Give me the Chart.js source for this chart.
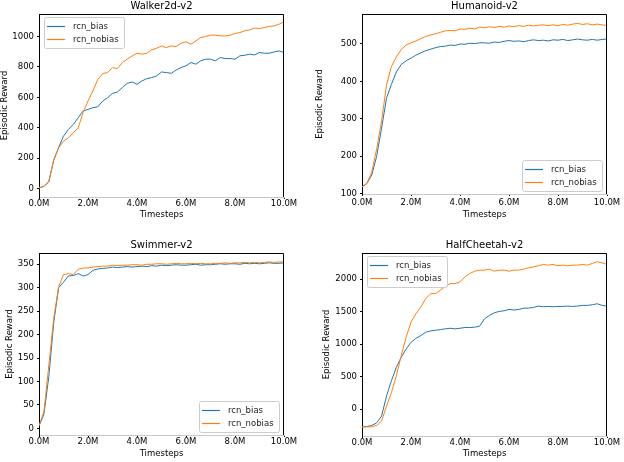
<!DOCTYPE html>
<html>
<head>
<meta charset="utf-8">
<script src="https://cdn.jsdelivr.net/npm/chart.js@4.4.0/dist/chart.umd.min.js"></script>
<style>
  body { margin: 0; background: #fff; }
  #wrap { position: relative; width: 624px; height: 462px; }
  canvas { position: absolute; }
</style>
</head>
<body>
<div id="wrap">
  <canvas id="walker" width="312" height="231" style="left:0;top:0"></canvas>
  <canvas id="humanoid" width="312" height="231" style="left:312px;top:0"></canvas>
  <canvas id="swimmer" width="312" height="231" style="left:0;top:231px"></canvas>
  <canvas id="cheetah" width="312" height="231" style="left:312px;top:231px"></canvas>
</div>
<script>
// timesteps in millions
const steps = [0, 0.2, 0.4, 0.6, 0.8, 1.0, 1.2, 1.4, 1.6, 1.8,
  2.0, 2.2, 2.4, 2.6, 2.8, 3.0, 3.2, 3.4, 3.6, 3.8,
  4.0, 4.2, 4.4, 4.6, 4.8, 5.0, 5.2, 5.4, 5.6, 5.8,
  6.0, 6.2, 6.4, 6.6, 6.8, 7.0, 7.2, 7.4, 7.6, 7.8,
  8.0, 8.2, 8.4, 8.6, 8.8, 9.0, 9.2, 9.4, 9.6, 9.8, 10.0]
const xTicks = [0, 2, 4, 6, 8, 10]

const legendLabels = ['rcn_bias', 'rcn_nobias']

//walker2d
const walkerTicks = [0, 200, 400, 600, 800, 1000]
const walkerBias = [5, 15, 45, 185, 270, 345, 389, 422, 466, 510,
  521, 532, 538, 576, 598, 626, 635, 664, 692, 701,
  686, 708, 723, 730, 741, 767, 763, 758, 780, 796,
  807, 829, 818, 840, 851, 851, 840, 862, 855, 855,
  851, 873, 877, 884, 879, 895, 890, 890, 899, 905, 895]
const walkerNobias = [5, 15, 48, 190, 268, 312, 334, 367, 400, 500,
  576, 642, 719, 756, 763, 795, 789, 829, 851, 872,
  890, 884, 890, 912, 923, 938, 927, 938, 934, 956,
  965, 949, 971, 993, 1000, 1009, 1009, 1004, 1004, 1009,
  1020, 1026, 1037, 1044, 1055, 1053, 1059, 1066, 1070, 1081, 1097]

//humanoid
const humanoidTicks = [100, 200, 300, 400, 500]
const humanoidBias = [118, 127, 150, 200, 275, 355, 392, 425, 445, 455,
  462, 470, 476, 482, 486, 490, 493, 494, 497, 496,
  500, 499, 502, 501, 503, 503, 502, 505, 504, 507,
  509, 507, 508, 506, 509, 511, 509, 510, 508, 511,
  510, 512, 509, 511, 513, 511, 510, 512, 510, 512, 513]
const humanoidNobias = [118, 128, 158, 220, 295, 390, 440, 465, 485, 497,
  503, 508, 514, 520, 524, 527, 531, 535, 536, 535,
  540, 539, 542, 540, 545, 543, 546, 544, 547, 545,
  548, 546, 549, 547, 550, 548, 550, 551, 549, 551,
  549, 552, 550, 553, 555, 552, 554, 551, 553, 551, 549]

//swimmer
const swimmerTicks = [0, 50, 100, 150, 200, 250, 300, 350]
const swimmerBias = [5, 30, 110, 225, 300, 312, 325, 326, 330, 325,
  328, 337, 340, 341, 342, 344, 343, 344, 345, 344,
  345, 346, 345, 347, 346, 348, 347, 348, 349, 348,
  348, 349, 350, 348, 349, 349, 350, 351, 350, 351,
  351, 350, 352, 351, 352, 351, 352, 353, 352, 352, 353]
const swimmerNobias = [6, 35, 134, 234, 302, 328, 330, 328, 339, 342,
  342, 344, 345, 346, 346, 348, 347, 348, 348, 349,
  349, 348, 350, 350, 351, 351, 350, 351, 352, 351,
  351, 352, 351, 352, 351, 351, 352, 352, 353, 352,
  353, 353, 354, 353, 354, 353, 354, 355, 354, 355, 355]

//halfcheetah
const cheetahTicks = [0, 500, 1000, 1500, 2000]
const cheetahBias = [-274, -270, -253, -212, -108, 201, 434, 641, 796, 925,
  1028, 1090, 1132, 1183, 1204, 1214, 1225, 1235, 1245, 1235,
  1245, 1256, 1256, 1261, 1276, 1390, 1442, 1483, 1504, 1514,
  1535, 1525, 1535, 1555, 1555, 1566, 1586, 1576, 1581, 1576,
  1581, 1581, 1586, 1581, 1586, 1597, 1597, 1607, 1622, 1597, 1586]
const cheetahNobias = [-274, -274, -274, -253, -186, 46, 253, 512, 822, 1106,
  1339, 1468, 1571, 1700, 1778, 1778, 1829, 1891, 1933, 1933,
  1959, 2036, 2088, 2124, 2140, 2140, 2155, 2124, 2140, 2140,
  2124, 2140, 2140, 2155, 2176, 2191, 2207, 2227, 2217, 2227,
  2207, 2217, 2207, 2217, 2217, 2227, 2217, 2243, 2269, 2253, 2227]

const FONT = 'DejaVu Sans'
Chart.defaults.font.family = FONT
Chart.defaults.font.size = 8.5
Chart.defaults.color = '#000'

// top and right spines
const framePlugin = {
  id: 'frame',
  afterDraw(chart) {
    const { ctx, chartArea: a } = chart
    ctx.save()
    ctx.strokeStyle = '#000'
    ctx.lineWidth = 1
    ctx.beginPath()
    ctx.moveTo(Math.round(a.left), Math.round(a.top) + 0.5)
    ctx.lineTo(Math.round(a.right) - 0.5, Math.round(a.top) + 0.5)
    ctx.lineTo(Math.round(a.right) - 0.5, Math.round(a.bottom))
    ctx.stroke()
    ctx.restore()
  }
}

// matplotlib style legend box inside the axes
const boxLegend = {
  id: 'boxLegend',
  afterDatasetsDraw(chart, args, opts) {
    const { ctx, chartArea: a } = chart
    const ds = chart.data.datasets
    ctx.save()
    ctx.font = '8.5px "' + FONT + '"'
    const tw = Math.max(...ds.map(d => ctx.measureText(d.label).width))
    const w = Math.round(29 + tw + 5), h = 31
    let x, y
    if (opts.corner === 'ul') {
      x = Math.round(a.left) + 5; y = Math.round(a.top) + 3
    } else {
      x = Math.round(a.right) - 5 - w; y = Math.round(a.bottom) - 3 - h
    }
    ctx.fillStyle = 'rgba(255,255,255,0.8)'
    ctx.strokeStyle = '#cccccc'
    ctx.lineWidth = 1
    ctx.beginPath()
    ctx.roundRect(x + 0.5, y + 0.5, w, h, 2)
    ctx.fill()
    ctx.stroke()
    ds.forEach((d, i) => {
      const ly = y + 9.5 + i * 13
      ctx.strokeStyle = d.borderColor
      ctx.lineWidth = 1.2
      ctx.beginPath()
      ctx.moveTo(x + 3, ly)
      ctx.lineTo(x + 21, ly)
      ctx.stroke()
      ctx.fillStyle = '#222'
      ctx.textBaseline = 'middle'
      ctx.fillText(d.label, x + 29, ly)
    })
    ctx.restore()
  }
}

function makePanel(id, title, bias, nobias, yr, box, corner) {
  const toPts = arr => arr.map((v, i) => ({ x: steps[i], y: v }))
  return new Chart(document.getElementById(id), {
    type: 'line',
    data: {
      datasets: [
        { label: legendLabels[0], data: toPts(bias), borderColor: '#1f77b4', borderWidth: 1, pointRadius: 0, order: 1 },
        { label: legendLabels[1], data: toPts(nobias), borderColor: '#ff7f0e', borderWidth: 1, pointRadius: 0, order: 0 }
      ]
    },
    options: {
      responsive: false,
      animation: false,
      layout: { padding: box.pad },
      plugins: {
        legend: { display: false },
        tooltip: { enabled: false },
        title: {
          display: true, text: title, fullSize: false, color: '#000',
          font: { size: 10, weight: 'normal' }, padding: { top: 0, bottom: 2 }
        },
        boxLegend: { corner: corner }
      },
      scales: {
        x: {
          type: 'linear', min: 0, max: 10,
          afterFit: s => { s.height = box.xh },
          afterBuildTicks: s => { s.ticks = xTicks.map(v => ({ value: v })) },
          ticks: { padding: box.xtp, maxRotation: 0, autoSkip: false, color: '#000', callback: v => v.toFixed(1) + 'M' },
          grid: { drawOnChartArea: false, tickLength: 2, color: '#000' },
          border: { color: '#c8c8c8' },
          title: { display: true, text: 'Timesteps', padding: 0, color: '#000' }
        },
        y: {
          min: yr.min, max: yr.max,
          afterFit: s => { s.width = box.yw },
          afterBuildTicks: s => { s.ticks = yr.ticks.map(v => ({ value: v })) },
          ticks: { padding: 3, autoSkip: false, color: '#000', callback: v => String(v) },
          grid: { drawOnChartArea: false, tickLength: 2, color: '#000' },
          border: { color: '#000' },
          title: { display: true, text: 'Episodic Reward', padding: 0, color: '#000' }
        }
      }
    },
    plugins: [framePlugin, boxLegend]
  })
}

document.addEventListener('DOMContentLoaded', () => {
  makePanel('walker', 'Walker2d-v2', walkerBias, walkerNobias,
    { min: -55, max: 1148, ticks: walkerTicks },
    { pad: { left: 0, right: 28, top: 0, bottom: 11 }, yw: 39, xh: 23, xtp: 0 }, 'ul')
  makePanel('humanoid', 'Humanoid-v2', humanoidBias, humanoidNobias,
    { min: 99, max: 580, ticks: humanoidTicks },
    { pad: { left: 3, right: 17, top: 0, bottom: 11 }, yw: 47, xh: 26, xtp: 2 }, 'lr')
  makePanel('swimmer', 'Swimmer-v2', swimmerBias, swimmerNobias,
    { min: -14, max: 374, ticks: swimmerTicks },
    { pad: { left: 5, right: 28, top: 8, bottom: 3 }, yw: 34, xh: 24, xtp: 0 }, 'lr')
  makePanel('cheetah', 'HalfCheetah-v2', cheetahBias, cheetahNobias,
    { min: -415, max: 2404, ticks: cheetahTicks },
    { pad: { left: 10, right: 17, top: 8, bottom: 3 }, yw: 40, xh: 23, xtp: 0 }, 'ul')
})
</script>
</body>
</html>
